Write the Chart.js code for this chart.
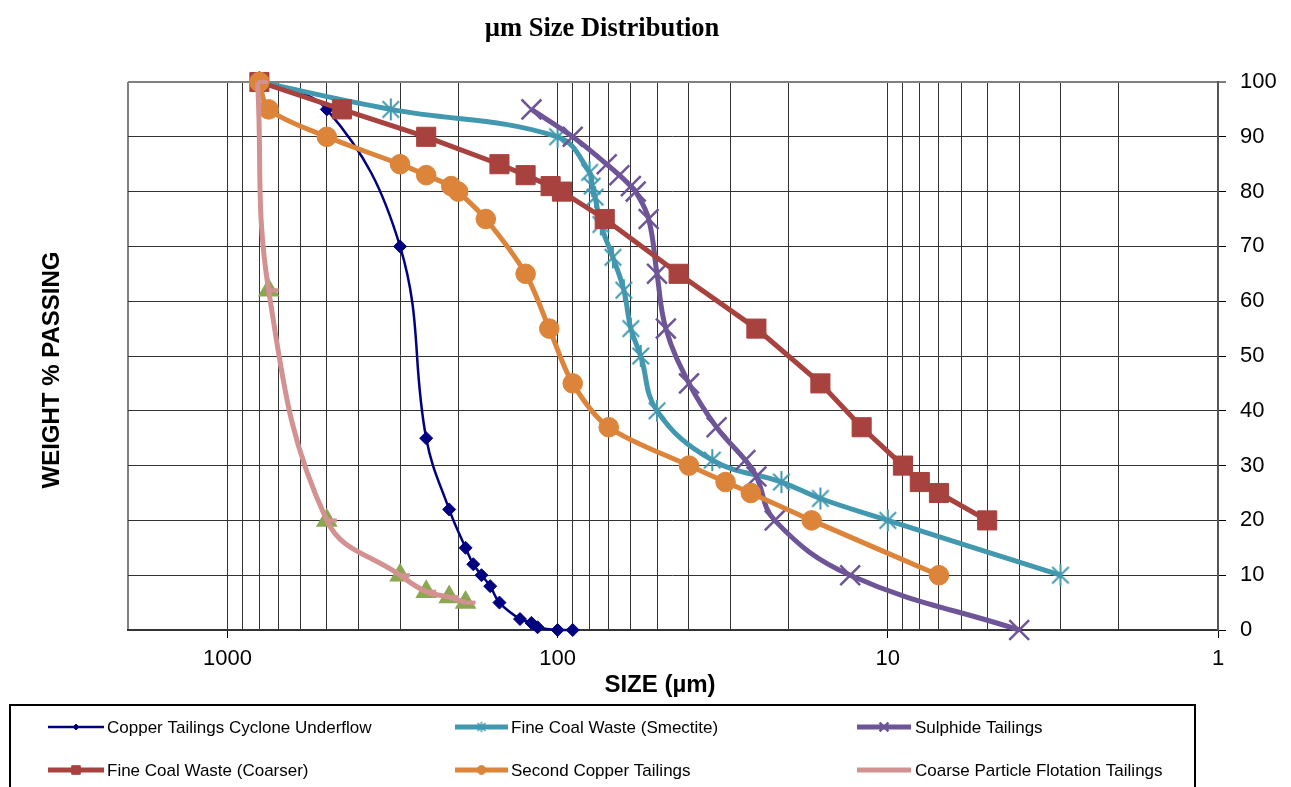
<!DOCTYPE html>
<html>
<head>
<meta charset="utf-8">
<script src="https://cdn.jsdelivr.net/npm/chart.js@4.4.1/dist/chart.umd.min.js"></script>
<style>
html,body{margin:0;padding:0;background:#fff;}
#c{display:block;}
</style>
</head>
<body>
<canvas id="c" width="1291" height="787"></canvas>
<script>
// ---------- DATA ----------
const titleText = "\u00b5m Size Distribution";
const xTitle = "SIZE (\u00b5m)";
const yTitle = "WEIGHT % PASSING";

const seriesNames = [
  "Copper Tailings Cyclone Underflow",
  "Fine Coal Waste (Smectite)",
  "Sulphide Tailings",
  "Fine Coal Waste (Coarser)",
  "Second Copper Tailings",
  "Coarse Particle Flotation Tailings"
];

const copperX = [800, 500, 300, 250, 213, 190, 180, 170, 160, 150, 130, 120, 115, 100, 90];
const copperY = [100, 95, 70, 35, 22, 15, 12, 10, 8, 5, 2, 1.3, 0.5, 0, 0];

const smectiteX = [800, 320, 100, 80, 78.6, 77, 74, 68, 63, 60, 56, 50, 34, 21, 16, 10, 3];
const smectiteY = [100, 95, 90, 83.5, 81, 79, 74, 68, 62, 55, 50, 40, 31, 27, 24, 20, 10];

const sulphideX = [120, 90, 71, 65, 60, 58, 53, 50, 47, 40, 33, 27, 25, 22, 13, 4];
const sulphideY = [95, 90, 85, 83, 81, 80, 75, 65, 55, 45, 37, 31, 28, 20, 10, 0];

const coarserX = [800, 450, 250, 150, 125, 105, 97, 72, 43, 25, 16, 12, 9, 8, 7, 5];
const coarserY = [100, 95, 90, 85, 83, 81, 80, 75, 65, 55, 45, 37, 30, 27, 25, 20];

const secondX = [800, 750, 500, 300, 250, 210, 200, 165, 125, 106, 90, 70, 40, 31, 26, 17, 7];
const secondY = [100, 95, 90, 85, 83, 81, 80, 75, 65, 55, 45, 37, 30, 27, 25, 20, 10];

const cpfX = [810, 750, 500, 300, 250, 213, 190];
const cpfY = [100, 62, 20, 10, 7, 6, 5];

const cpfMarkX = [750, 500, 300, 250, 213, 190];
const cpfMarkY = [62, 20, 10, 7, 6, 5];

const xGridValues = [1,2,3,4,5,6,7,8,9,10,20,30,40,50,60,70,80,90,100,200,300,400,500,600,700,800,900,1000,2000];
const xLabelValues = [1, 10, 100, 1000];
const yTicks = [0,10,20,30,40,50,60,70,80,90,100];

// ---------- BUILD ----------
function pts(xs, ys){ return xs.map((x,i)=>({x:x, y:ys[i]})); }

// Excel-style asterisk marker (X plus vertical bar)
function makeStar(size, color, lw){
  const cv = document.createElement('canvas');
  cv.width = size; cv.height = size;
  const g = cv.getContext('2d');
  const c = size / 2, r = size / 2 - lw / 2;
  g.strokeStyle = color; g.lineWidth = lw; g.lineCap = 'butt';
  g.beginPath();
  g.moveTo(c, c - r); g.lineTo(c, c + r);
  const d = r * 0.75;
  g.moveTo(c - d, c - d); g.lineTo(c + d, c + d);
  g.moveTo(c - d, c + d); g.lineTo(c + d, c - d);
  g.stroke();
  return cv;
}
const tealStar = makeStar(24, '#4198AF', 2);
const tealStarSmall = makeStar(12, '#4198AF', 1.5);

const datasets = [
  {label: seriesNames[0], data: pts(copperX, copperY), borderColor:'#000080', backgroundColor:'#000080',
   borderWidth:2.5, pointStyle:'rectRot', pointRadius:6.5, pointBorderWidth:1, tension:0.4, order:7},
  {label: seriesNames[1], data: pts(smectiteX, smectiteY), borderColor:'#4198AF', backgroundColor:'#4198AF',
   borderWidth:5, pointStyle:tealStar, legendStyle:tealStarSmall, pointRadius:12, pointBorderWidth:2, tension:0.4, order:6},
  {label: seriesNames[2], data: pts(sulphideX, sulphideY), borderColor:'#6E5597', backgroundColor:'#6E5597',
   borderWidth:5, pointStyle:'crossRot', pointRadius:14, pointBorderWidth:2.5, tension:0.4, order:5},
  {label: seriesNames[3], data: pts(coarserX, coarserY), borderColor:'#A8423F', backgroundColor:'#A8423F',
   borderWidth:5, pointStyle:'rect', pointRadius:13.5, pointBorderWidth:1, tension:0, order:4},
  {label: seriesNames[4], data: pts(secondX, secondY), borderColor:'#DC843A', backgroundColor:'#DC843A',
   borderWidth:5, pointStyle:'circle', pointRadius:9.8, pointBorderWidth:1, tension:0.3, order:3},
  {label: seriesNames[5], data: pts(cpfX, cpfY), borderColor:'#D39191', backgroundColor:'#D39191',
   borderWidth:5, pointStyle:'dash', pointRadius:10, pointBorderWidth:4, tension:0.4, order:1},
  {label: '_markers', data: pts(cpfMarkX, cpfMarkY), borderColor:'#8BA752', backgroundColor:'#8BA752',
   borderWidth:0, showLine:false, pointStyle:'triangle', pointRadius:12.5, pointBorderWidth:0, order:2, legendHidden:true}
];
datasets.forEach(d => {
  if (d.showLine === undefined) d.showLine = true;
  d.clip = false;
  d.pointBackgroundColor = d.backgroundColor;
  d.pointBorderColor = d.borderColor;
  d.pointHoverRadius = d.pointRadius;
});

// ---------- PLUGIN: titles + legend ----------
const decorPlugin = {
  id: 'decor',
  afterDraw(chart){
    const ctx = chart.ctx;
    ctx.save();
    ctx.fillStyle = '#000';
    ctx.textAlign = 'center';
    ctx.textBaseline = 'alphabetic';
    ctx.font = 'bold 26.5px "Liberation Serif", "Times New Roman", serif';
    ctx.fillText(titleText, 602, 36);
    ctx.font = 'bold 24px "Liberation Sans", Arial, sans-serif';
    ctx.fillText(xTitle, 660, 692);
    ctx.save();
    ctx.translate(59, 370);
    ctx.rotate(-Math.PI/2);
    ctx.fillText(yTitle, 0, 0);
    ctx.restore();

    // legend box
    ctx.strokeStyle = '#000';
    ctx.lineWidth = 2;
    ctx.strokeRect(10, 705, 1185, 100);
    const cols = [{x0:48,x1:104,tx:107},{x0:455,x1:508,tx:511},{x0:857,x1:911,tx:915}];
    const rows = [727, 770];
    const legendSets = chart.data.datasets.filter(d => !d.legendHidden);
    legendSets.forEach((d, i) => {
      const c = cols[i % 3], y = rows[Math.floor(i / 3)];
      ctx.strokeStyle = d.borderColor;
      ctx.lineWidth = d.borderWidth;
      ctx.lineCap = 'butt';
      ctx.beginPath(); ctx.moveTo(c.x0, y); ctx.lineTo(c.x1, y); ctx.stroke();
      const mx = (c.x0 + c.x1) / 2;
      ctx.fillStyle = d.backgroundColor;
      ctx.strokeStyle = d.borderColor;
      ctx.lineWidth = d.pointBorderWidth;
      const style = d.legendStyle || d.pointStyle;
      if (Chart.helpers && Chart.helpers.drawPoint) {
        Chart.helpers.drawPoint(ctx, {pointStyle: style, radius: d.pointRadius * 0.45,
          borderWidth: d.pointBorderWidth, rotation: 0}, d.pointStyle === 'dash' ? mx - 3 : mx, y);
      }
      ctx.fillStyle = '#000';
      ctx.font = '17px "Liberation Sans", Arial, sans-serif';
      ctx.textAlign = 'left';
      ctx.textBaseline = 'middle';
      ctx.fillText(d.label, c.tx, y + 1);
    });
    ctx.restore();
  }
};

// ---------- CHART ----------
new Chart(document.getElementById('c'), {
  type: 'scatter',
  data: { datasets: datasets },
  options: {
    responsive: false,
    devicePixelRatio: 1,
    animation: false,
    events: [],
    layout: { padding: { left: 128, top: 82, right: 0, bottom: 0 } },
    plugins: { legend: { display: false }, title: { display: false }, tooltip: { enabled: false } },
    scales: {
      x: {
        type: 'logarithmic',
        position: 'bottom',
        reverse: true,
        min: 1,
        max: 2000,
        afterBuildTicks: (scale) => { scale.ticks = xGridValues.map(v => ({value: v, major: xLabelValues.includes(v)})); },
        afterFit: (scale) => { scale.height = 157; },
        ticks: {
          autoSkip: false,
          maxRotation: 0,
          minRotation: 0,
          padding: 8,
          color: '#000',
          font: { family: '"Liberation Sans", Arial, sans-serif', size: 22 },
          callback: (v) => xLabelValues.includes(v) ? String(v) : ''
        },
        grid: {
          drawOnChartArea: true,
          drawTicks: true,
          tickLength: 8,
          color: (ctx) => (ctx.tick && ctx.tick.value === 2000) ? '#808080' : '#333333',
          lineWidth: (ctx) => (ctx.tick && ctx.tick.value === 2000) ? 2 : 1,
          tickColor: (ctx) => (ctx.tick && xLabelValues.includes(ctx.tick.value)) ? '#000' : 'rgba(0,0,0,0)',
          tickWidth: 1
        },
        border: { display: true, color: '#333333', width: 2 }
      },
      y: {
        type: 'linear',
        position: 'right',
        min: 0,
        max: 100,
        afterBuildTicks: (scale) => { scale.ticks = yTicks.map(v => ({value: v})); },
        afterFit: (scale) => { scale.width = 73; },
        ticks: {
          padding: 14,
          color: '#000',
          font: { family: '"Liberation Sans", Arial, sans-serif', size: 22 },
          callback: (v) => String(v)
        },
        grid: {
          drawTicks: true,
          tickLength: 8,
          color: (ctx) => (ctx.tick && ctx.tick.value === 100) ? '#808080' : '#333333',
          lineWidth: (ctx) => (ctx.tick && ctx.tick.value === 100) ? 2 : 1,
          tickColor: '#000',
          tickWidth: 1
        },
        border: { display: true, color: '#555555', width: 2 }
      }
    }
  },
  plugins: [decorPlugin]
});
</script>
</body>
</html>
